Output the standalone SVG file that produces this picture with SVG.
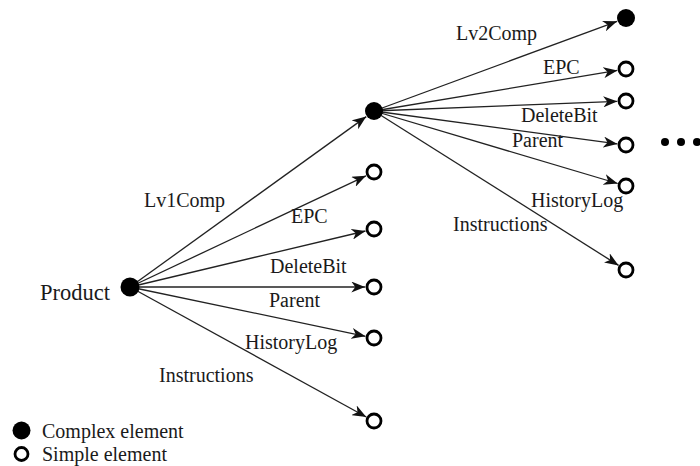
<svg xmlns="http://www.w3.org/2000/svg" width="700" height="466" viewBox="0 0 700 466">
<style>
text{fill:#1a1a1a;font-size:20px}
.edge{stroke:#222;stroke-width:1.3;fill:none;marker-end:url(#arr)}
.cx{fill:#000}
.sp{fill:#fff;stroke:#000;stroke-width:2.8}
</style>
<defs>
<marker id="arr" viewBox="0 0 14 11" refX="14" refY="5.5" markerWidth="14" markerHeight="11" markerUnits="userSpaceOnUse" orient="auto">
<path d="M0,0 L14,5.5 L0,11 L4,5.5 Z" fill="#111"/>
</marker>
</defs>
<rect width="700" height="466" fill="#fff"/>
<g id="connectors">
<line class="edge" x1="130" y1="287" x2="366.3" y2="116.6"/>
<line class="edge" x1="130" y1="287" x2="366" y2="175.8"/>
<line class="edge" x1="130" y1="287" x2="365.5" y2="231"/>
<line class="edge" x1="130" y1="287" x2="365.3" y2="287"/>
<line class="edge" x1="130" y1="287" x2="365.5" y2="336.3"/>
<line class="edge" x1="130" y1="287" x2="366.3" y2="417"/>
<line class="edge" x1="374" y1="111" x2="617.1" y2="21.3"/>
<line class="edge" x1="374" y1="111" x2="617.4" y2="70.4"/>
<line class="edge" x1="374" y1="111" x2="617.3" y2="101.3"/>
<line class="edge" x1="374" y1="111" x2="617.4" y2="143.9"/>
<line class="edge" x1="374" y1="111" x2="617.7" y2="183.5"/>
<line class="edge" x1="374" y1="111" x2="618.6" y2="265.4"/>
</g>
<g id="labels" font-family="Liberation Serif, Times New Roman, serif">
<text x="144" y="207">Lv1Comp</text>
<text x="291" y="222.5">EPC</text>
<text x="270" y="273">DeleteBit</text>
<text x="269" y="306.5">Parent</text>
<text x="245" y="349">HistoryLog</text>
<text x="159" y="382">Instructions</text>
<text x="456" y="40">Lv2Comp</text>
<text x="543" y="74">EPC</text>
<text x="521" y="122">DeleteBit</text>
<text x="512" y="146.5">Parent</text>
<text x="531" y="206.5">HistoryLog</text>
<text x="453" y="230.5">Instructions</text>
</g>
<g id="product"><circle class="cx" cx="130" cy="287" r="9.5"/><text x="40" y="299.5" font-family="Liberation Serif, Times New Roman, serif" style="font-size:22.5px">Product</text></g>
<g id="lv1comp"><circle class="cx" cx="374" cy="111" r="9"/></g>
<g id="epc1"><circle class="sp" cx="374" cy="172" r="7"/></g>
<g id="deletebit1"><circle class="sp" cx="374" cy="229" r="7"/></g>
<g id="parent1"><circle class="sp" cx="374" cy="287" r="7"/></g>
<g id="historylog1"><circle class="sp" cx="374" cy="338" r="7"/></g>
<g id="instructions1"><circle class="sp" cx="374" cy="421" r="7"/></g>
<g id="lv2comp"><circle class="cx" cx="626" cy="18" r="9"/></g>
<g id="epc2"><circle class="sp" cx="626" cy="69" r="7"/></g>
<g id="deletebit2"><circle class="sp" cx="626" cy="101" r="7"/></g>
<g id="parent2"><circle class="sp" cx="626" cy="145" r="7"/></g>
<g id="historylog2"><circle class="sp" cx="626" cy="186" r="7"/></g>
<g id="instructions2"><circle class="sp" cx="626" cy="270" r="7"/></g>
<g id="ellipsis"><circle class="cx" cx="665" cy="142" r="4"/><circle class="cx" cx="681" cy="142" r="4"/><circle class="cx" cx="697" cy="142" r="4"/></g>
<g id="legend" font-family="Liberation Serif, Times New Roman, serif">
<circle class="cx" cx="21.5" cy="430.5" r="9"/>
<text x="42" y="437.5">Complex element</text>
<circle class="sp" cx="21.5" cy="454" r="6.5"/>
<text x="42" y="461">Simple element</text>
</g>
</svg>
